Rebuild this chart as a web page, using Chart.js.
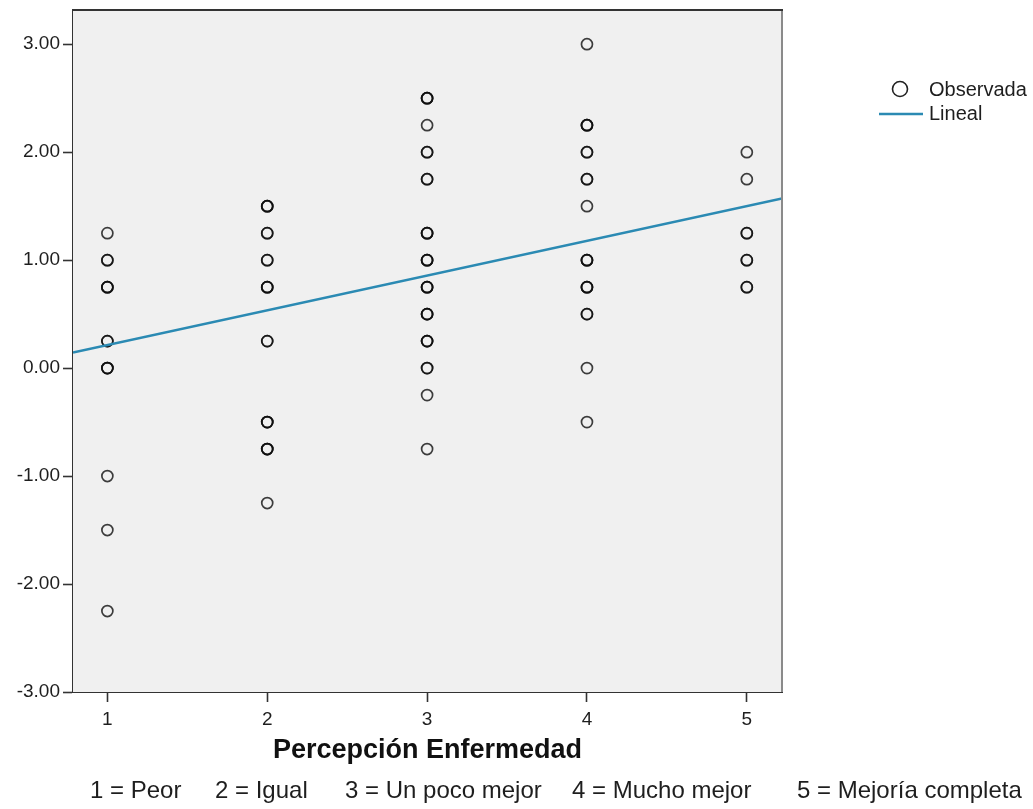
<!DOCTYPE html>
<html>
<head>
<meta charset="utf-8">
<script src="https://cdn.jsdelivr.net/npm/chart.js@4.4.1/dist/chart.umd.min.js"></script>
<style>
  html, body { margin: 0; padding: 0; background: #ffffff; }
  #wrap { position: relative; width: 1033px; height: 809px; }
</style>
</head>
<body>
<div id="wrap"><canvas id="chart" width="1033" height="809"></canvas></div>
<script>
// Perception categories (x) and their legend names
const categories = [1, 2, 3, 4, 5];
const categoryNames = ['Peor', 'Igual', 'Un poco mejor', 'Mucho mejor', 'Mejoría completa'];

// Observed scores per category (repeated values are overlapping cases)
const scoresPeor = [1.25, 1.00, 1.00, 0.75, 0.75, 0.75, 0.25, 0.25, 0.00, 0.00, 0.00, -1.00, -1.50, -2.25];
const scoresIgual = [1.50, 1.50, 1.50, 1.25, 1.25, 1.00, 1.00, 0.75, 0.75, 0.75, 0.25, 0.25,
                     -0.50, -0.50, -0.50, -0.75, -0.75, -0.75, -1.25];
const scoresPocoMejor = [2.50, 2.50, 2.50, 2.25, 2.00, 2.00, 1.75, 1.75, 1.25, 1.25, 1.25,
                         1.00, 1.00, 1.00, 0.75, 0.75, 0.75, 0.50, 0.50, 0.50, 0.25, 0.25, 0.25,
                         0.00, 0.00, -0.25, -0.75];
const scoresMuchoMejor = [3.00, 2.25, 2.25, 2.25, 2.00, 2.00, 1.75, 1.75, 1.50,
                          1.00, 1.00, 1.00, 0.75, 0.75, 0.75, 0.50, 0.50, 0.00, -0.50];
const scoresCompleta = [2.00, 1.75, 1.25, 1.25, 1.00, 1.00, 0.75, 0.75];

// Linear fit line, at both ends of the x range
const fitX = [0.785, 5.22];
const fitY = [0.145, 1.571];

// Axis ticks
const xTicks = [1, 2, 3, 4, 5];
const yTicks = [-3, -2, -1, 0, 1, 2, 3];
const xRange = [0.785, 5.22];
const yRange = [-3, 3.317];

const groups = [scoresPeor, scoresIgual, scoresPocoMejor, scoresMuchoMejor, scoresCompleta];
const observed = groups.flatMap((g, i) => g.map(v => ({ x: categories[i], y: v })));
const fitted = fitX.map((x, i) => ({ x: x, y: fitY[i] }));

const FONT = "'Liberation Sans', Arial, sans-serif";
const TEXT = '#1e1e1e';
const LINE_BLUE = '#2b8ab3';

// Grey plot background plus the surrounding frame
const plotFrame = {
  id: 'plotFrame',
  beforeDatasetsDraw(chart) {
    const { ctx, chartArea: a } = chart;
    ctx.save();
    ctx.fillStyle = '#f0f0f0';
    ctx.fillRect(a.left, a.top, a.right - a.left, a.bottom - a.top);
    ctx.restore();
  },
  afterDatasetsDraw(chart) {
    const { ctx, chartArea: a } = chart;
    ctx.save();
    ctx.lineWidth = 2;
    ctx.strokeStyle = '#8a8a8a';
    ctx.beginPath();
    ctx.moveTo(a.right, a.top);
    ctx.lineTo(a.right, a.bottom);
    ctx.stroke();
    ctx.strokeStyle = '#333333';
    ctx.beginPath();
    ctx.moveTo(a.left, a.top);
    ctx.lineTo(a.right + 1, a.top);
    ctx.stroke();
    ctx.restore();
  }
};

// Legend at the top right and the category key under the x-axis title
const sideNotes = {
  id: 'sideNotes',
  afterDraw(chart) {
    const { ctx } = chart;
    const ds = chart.data.datasets;
    const obs = ds.find(d => d.id === 'obs');
    const lin = ds.find(d => d.id === 'fit');
    ctx.save();
    ctx.textBaseline = 'middle';
    ctx.textAlign = 'left';
    ctx.font = '20px ' + FONT;
    ctx.fillStyle = TEXT;

    ctx.strokeStyle = '#222222';
    ctx.lineWidth = 1.6;
    ctx.beginPath();
    ctx.arc(900, 89, 7.5, 0, Math.PI * 2);
    ctx.stroke();
    ctx.fillText(obs.label, 929, 90);

    ctx.strokeStyle = lin.borderColor;
    ctx.lineWidth = 2.5;
    ctx.beginPath();
    ctx.moveTo(879, 114);
    ctx.lineTo(923, 114);
    ctx.stroke();
    ctx.fillText(lin.label, 929, 114);

    ctx.font = '24px ' + FONT;
    const starts = [90, 215, 345, 572, 797];
    categories.forEach((c, i) => {
      ctx.fillText(c + ' = ' + categoryNames[i], starts[i], 791);
    });
    ctx.restore();
  }
};

new Chart(document.getElementById('chart'), {
  type: 'scatter',
  data: {
    datasets: [
      {
        id: 'fit',
        label: 'Lineal',
        data: fitted,
        showLine: true,
        borderColor: LINE_BLUE,
        borderWidth: 2.4,
        pointRadius: 0,
        pointHoverRadius: 0,
        order: 0
      },
      {
        id: 'obs',
        label: 'Observada',
        data: observed,
        showLine: false,
        pointStyle: 'circle',
        pointRadius: 5.5,
        pointHoverRadius: 5.5,
        pointBorderWidth: 1.7,
        borderColor: 'rgba(15,15,15,0.8)',
        backgroundColor: 'rgba(0,0,0,0)',
        order: 1
      }
    ]
  },
  options: {
    responsive: false,
    animation: false,
    events: [],
    layout: { padding: { top: 10, right: 251, left: 0, bottom: 0 } },
    plugins: {
      legend: { display: false },
      tooltip: { enabled: false }
    },
    scales: {
      x: {
        type: 'linear',
        min: xRange[0],
        max: xRange[1],
        afterBuildTicks: s => { s.ticks = xTicks.map(v => ({ value: v })); },
        afterFit: s => { s.height = 117; s.paddingLeft = 0; s.paddingRight = 0; },
        grid: {
          display: true,
          drawOnChartArea: false,
          drawTicks: true,
          tickLength: 10,
          tickWidth: 1.6,
          tickColor: '#333333'
        },
        border: { display: true, color: '#333333', width: 2 },
        ticks: {
          color: TEXT,
          font: { family: FONT, size: 19 },
          padding: 6,
          callback: v => String(v)
        },
        title: {
          display: true,
          text: 'Percepción Enfermedad',
          color: '#111111',
          font: { family: FONT, size: 27, weight: 'bold' },
          padding: { top: 0, bottom: 42 }
        }
      },
      y: {
        type: 'linear',
        min: yRange[0],
        max: yRange[1],
        afterBuildTicks: s => { s.ticks = yTicks.map(v => ({ value: v })); },
        afterFit: s => { s.width = 73; s.paddingTop = 0; s.paddingBottom = 0; },
        grid: {
          display: true,
          drawOnChartArea: false,
          drawTicks: true,
          tickLength: 10,
          tickWidth: 1.6,
          tickColor: '#333333'
        },
        border: { display: true, color: '#333333', width: 2 },
        ticks: {
          color: TEXT,
          font: { family: FONT, size: 19 },
          padding: 3,
          callback: v => Number(v).toFixed(2)
        }
      }
    }
  },
  plugins: [plotFrame, sideNotes]
});
</script>
</body>
</html>
